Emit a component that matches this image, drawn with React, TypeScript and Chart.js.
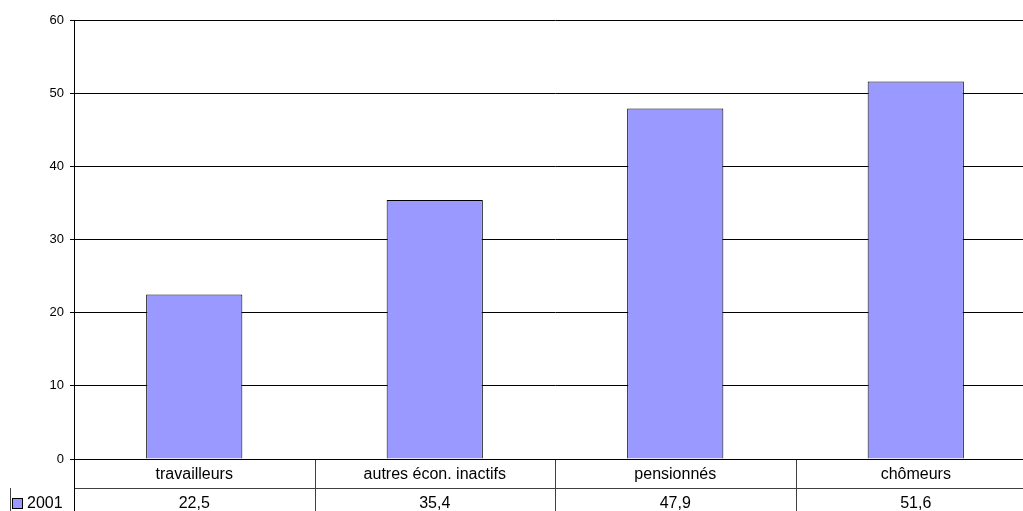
import React, { useEffect, useRef } from "react";
import { Chart, registerables } from "chart.js";

Chart.register(...registerables);

const categories = ["travailleurs", "autres écon. inactifs", "pensionnés", "chômeurs"];
const seriesLabel = "2001";
const values2001 = [22.5, 35.4, 47.9, 51.6];
const yTicks = [0, 10, 20, 30, 40, 50, 60];

const FONT = "'Liberation Sans', Arial, sans-serif";
const BAR_FILL = "#9999FF";

const fmt = (v: number) => v.toFixed(1).replace(".", ",");

const tablePlugin = {
  id: "dataTable",
  afterDraw(chart: any) {
    const { ctx, chartArea, scales } = chart;
    const xs = scales.x;
    const top = chartArea.bottom;
    const rowH = 29;
    const r1 = top + rowH;
    const bottom = chart.height;
    const left = chartArea.left;
    const right = chartArea.right;
    const legendLeft = 10;
    const c = (v: number) => Math.round(v) + 0.5;
    const line = (x1: number, y1: number, x2: number, y2: number, color: string) => {
      ctx.beginPath();
      ctx.strokeStyle = color;
      ctx.lineWidth = 1;
      ctx.moveTo(x1, y1);
      ctx.lineTo(x2, y2);
      ctx.stroke();
    };
    ctx.save();
    // table grid
    line(left, c(r1), right, c(r1), "#404040");
    line(c(legendLeft), r1, c(legendLeft), bottom, "#404040");
    for (let i = 1; i <= categories.length; i++) {
      const bx = xs.getPixelForValue(i - 0.5);
      line(c(bx), top, c(bx), bottom, "#404040");
    }
    line(c(left), chartArea.top, c(left), bottom, "#000");
    line(left, c(top), right, c(top), "#000");

    // texts
    ctx.fillStyle = "#000";
    ctx.font = `16px ${FONT}`;
    ctx.textAlign = "center";
    ctx.textBaseline = "middle";
    categories.forEach((cat, i) => {
      const cx = xs.getPixelForValue(i);
      ctx.fillText(cat, cx, top + rowH / 2 + 1);
      ctx.fillText(fmt(values2001[i]), cx, r1 + rowH / 2 + 1);
    });
    // legend key
    ctx.fillStyle = BAR_FILL;
    ctx.fillRect(12.5, 498.5, 10, 10);
    ctx.strokeStyle = "#000";
    ctx.lineWidth = 1;
    ctx.strokeRect(12.5, 498.5, 10, 10);
    ctx.fillStyle = "#000";
    ctx.textAlign = "left";
    ctx.fillText(seriesLabel, 27, r1 + rowH / 2 + 1);
    ctx.restore();
  },
};

export default function App() {
  const ref = useRef<HTMLCanvasElement | null>(null);
  useEffect(() => {
    if (!ref.current) return;
    const chart = new Chart(ref.current, {
      type: "bar",
      data: {
        labels: categories,
        datasets: [
          {
            label: seriesLabel,
            data: values2001,
            backgroundColor: BAR_FILL,
            borderColor: "#000",
            borderWidth: 1,
            barPercentage: 0.4,
            categoryPercentage: 1,
          },
        ],
      },
      options: {
        responsive: false,
        animation: false,
        devicePixelRatio: 1,
        layout: { padding: { left: 0, top: 20, right: 4, bottom: 71 } },
        plugins: { legend: { display: false }, tooltip: { enabled: false } },
        scales: {
          x: { display: false, offset: true },
          y: {
            min: yTicks[0],
            max: yTicks[yTicks.length - 1],
            afterFit: (s: any) => {
              s.width = 74;
            },
            afterBuildTicks: (s: any) => {
              s.ticks = yTicks.map((v) => ({ value: v }));
            },
            ticks: {
              color: "#000",
              font: { family: FONT, size: 13 },
              padding: 6,
            },
            grid: { color: "#000", tickLength: 4, lineWidth: 1 },
            border: { color: "#000" },
          },
        },
      },
      plugins: [tablePlugin],
    });
    return () => chart.destroy();
  }, []);
  return (
    <div
      style={{
        position: "fixed",
        left: 0,
        top: 0,
        width: 1023,
        height: 511,
        overflow: "hidden",
        background: "#fff",
      }}
    >
      <canvas ref={ref} width={1040} height={530} style={{ display: "block" }} />
    </div>
  );
}
